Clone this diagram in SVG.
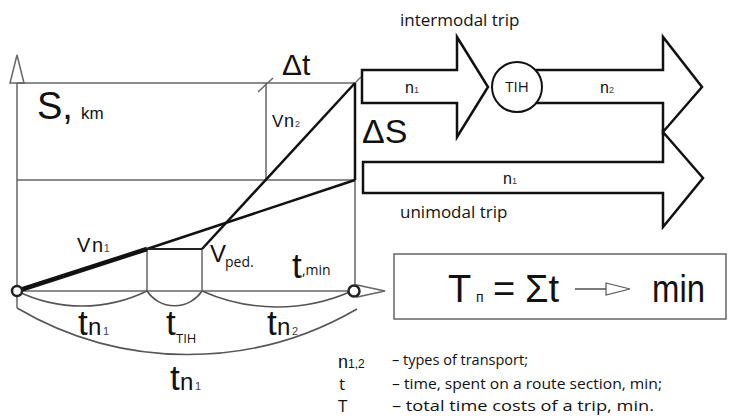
<svg xmlns="http://www.w3.org/2000/svg" width="730" height="416" viewBox="0 0 730 416">
<style>
.g{fill:none;stroke:#666;stroke-width:1.5}
.gf{fill:#fff;stroke:#666;stroke-width:1.5}
.k{fill:none;stroke:#111;stroke-width:2.5}
.arc{fill:none;stroke:#555;stroke-width:1.6}
.arr{fill:#fff;stroke:#111;stroke-width:2.5;stroke-linejoin:miter}
.a{font-family:"Liberation Sans",Arial,sans-serif;fill:#111}
.o{font-family:"Open Sans","Liberation Sans",sans-serif;fill:#111}
.s{fill:#444}
.lg{font-family:"Open Sans","Liberation Sans",sans-serif;fill:#111;font-size:15px}
</style>
<rect width="730" height="416" fill="#fff"/>

<g id="axes">
  <line class="g" x1="17" y1="83" x2="17" y2="308"/>
  <polygon class="gf" points="17,55 24,83 10,83"/>
  <line class="g" x1="17" y1="83" x2="355" y2="83"/>
  <line class="g" x1="17" y1="180" x2="355" y2="180"/>
  <line class="g" x1="266" y1="83" x2="266" y2="180"/>
  <line class="g" x1="258" y1="92" x2="273" y2="78"/>
  <line class="g" x1="17" y1="291" x2="357" y2="291"/>
  <line class="g" x1="355" y1="180" x2="355" y2="286"/>
  <line class="g" x1="147" y1="249" x2="147" y2="291"/>
  <line class="g" x1="202" y1="249" x2="202" y2="291"/>
  <polygon class="gf" points="357,285 385,291 357,297"/>
</g>

<g id="connectors">
  <line x1="17" y1="291" x2="147" y2="249" stroke="#111" stroke-width="4.5"/>
  <line class="k" x1="147" y1="249" x2="355" y2="180"/>
  <line class="k" x1="202" y1="249" x2="355" y2="83"/>
  <line x1="355" y1="83" x2="361" y2="77" stroke="#666" stroke-width="1.2"/>
  <line class="k" x1="355" y1="83" x2="355" y2="180"/>
  <line x1="147" y1="249" x2="202" y2="249" stroke="#222" stroke-width="2"/>
  <path class="arc" d="M17 291 A148 148 0 0 0 147 291"/>
  <path class="arc" d="M147 291 A33 33 0 0 0 202 291"/>
  <path class="arc" d="M202 291 A184 184 0 0 0 352 291"/>
  <path class="arc" d="M17 308 A337 337 0 0 0 357 309"/>
</g>

<g id="start-point"><circle cx="17" cy="291" r="5" fill="#fff" stroke="#222" stroke-width="2.5"/></g>
<g id="end-point"><circle cx="354" cy="291" r="5.5" fill="#fff" stroke="#222" stroke-width="2.5"/></g>

<g id="graph-labels">
  <text class="a" x="37" y="119" font-size="38">S,</text>
  <text class="a" x="81" y="119" font-size="17">km</text>
  <text class="a" x="282" y="75" font-size="30">Δt</text>
  <text class="a" x="272" y="127" font-size="17">V<tspan x="284" font-size="18">n</tspan><tspan x="295" font-size="9" class="s">2</tspan></text>
  <text class="a" x="77" y="252" font-size="20">V<tspan x="92" font-size="20">n</tspan><tspan x="104" font-size="10" class="s">1</tspan></text>
  <text class="a" x="210" y="262" font-size="24">V</text>
  <text class="o" x="225" y="267" font-size="14">ped.</text>
  <text class="a" x="292" y="278" font-size="35">t</text>
  <text class="o" x="302" y="275" font-size="14">,min</text>
  <text class="a" x="78" y="335" font-size="35">t<tspan x="88" font-size="24">n</tspan><tspan x="103" font-size="11" class="s">1</tspan></text>
  <text class="a" x="166" y="335" font-size="35">t</text>
  <text class="o" x="176" y="343" font-size="13">TIH</text>
  <text class="a" x="267" y="335" font-size="35">t<tspan x="277" font-size="24">n</tspan><tspan x="292" font-size="11" class="s">2</tspan></text>
  <text class="a" x="170" y="390" font-size="35">t<tspan x="180" font-size="24">n</tspan><tspan x="195" font-size="11" class="s">1</tspan></text>
</g>

<g id="intermodal-label"><text class="o" x="400" y="26" font-size="17">intermodal trip</text></g>

<g id="arrow-n1">
  <polygon class="arr" points="362,70 457,70 457,37 488,87 457,137 457,103 362,103"/>
  <text class="a" x="405" y="93" font-size="16" fill="#333">n<tspan font-size="9" class="s">1</tspan></text>
</g>

<g id="arrow-n2">
  <path class="arr" d="M536 70 L663 70 L663 37 L702 87 L663 132 L663 103 L536 103"/>
  <text class="a" x="600" y="93" font-size="16" fill="#333">n<tspan font-size="9" class="s">2</tspan></text>
</g>

<g id="tih">
  <circle cx="517" cy="87" r="25" fill="#fff" stroke="#111" stroke-width="2"/>
  <text class="o" x="517" y="92" font-size="15" text-anchor="middle">TIH</text>
</g>

<g id="delta-s"><text class="a" x="362" y="143" font-size="34">ΔS</text></g>

<g id="arrow-unimodal">
  <polygon class="arr" points="363,162 663,162 663,132 703,178 663,227 663,193 363,193"/>
  <text class="a" x="503" y="184" font-size="16" fill="#333">n<tspan font-size="9" class="s">1</tspan></text>
</g>

<g id="unimodal-label"><text class="o" x="400" y="218" font-size="17">unimodal trip</text></g>

<g id="formula">
  <rect x="394" y="254" width="332" height="65" fill="#fff" stroke="#666" stroke-width="1.5"/>
  <text class="a" x="448" y="302" font-size="38">T</text>
  <text class="a" x="476" y="302" font-size="14">п</text>
  <text class="a" x="493" y="302" font-size="38">=</text>
  <text class="a" x="525" y="302" font-size="38">Σt</text>
  <line x1="575" y1="289" x2="606" y2="289" stroke="#333" stroke-width="1.3"/>
  <polygon points="606,283 630,289 606,295" fill="#fff" stroke="#555" stroke-width="1.2"/>
  <text class="a" x="652" y="302" font-size="38" textLength="53" lengthAdjust="spacingAndGlyphs">min</text>
</g>

<g id="legend">
  <text class="a" x="338" y="368" font-size="18" fill="#333">n<tspan font-size="12">1,2</tspan></text>
  <text class="lg" x="392" y="365" textLength="136" lengthAdjust="spacingAndGlyphs">– types of transport;</text>
  <text class="o" x="339" y="390" font-size="17">t</text>
  <text class="lg" x="392" y="389" textLength="270" lengthAdjust="spacingAndGlyphs">– time, spent on a route section, min;</text>
  <text class="o" x="338" y="412" font-size="17">T</text>
  <text class="lg" x="392" y="411" textLength="262" lengthAdjust="spacingAndGlyphs">– total time costs of a trip, min.</text>
</g>
</svg>
